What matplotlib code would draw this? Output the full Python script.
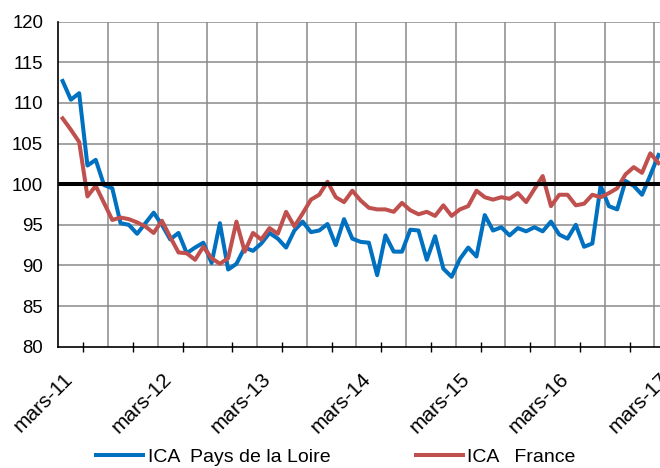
import matplotlib.pyplot as plt
import numpy as np

plt.rcParams['font.family'] = ['Liberation Sans', 'DejaVu Sans']

# monthly index, mars-11 .. mars-17
labels = ['mars-11', 'mars-12', 'mars-13', 'mars-14', 'mars-15', 'mars-16', 'mars-17']

pdl = [112.7, 110.4, 111.2, 102.3, 103.0, 99.9, 99.5, 95.2, 95.0, 93.9,
       95.2, 96.5, 95.0, 93.2, 94.0, 91.5, 92.2, 92.8, 90.3, 95.2,
       89.5, 90.2, 92.2, 91.8, 92.7, 94.0, 93.3, 92.2, 94.3, 95.4,
       94.1, 94.3, 95.1, 92.5, 95.7, 93.3, 92.9, 92.8, 88.8, 93.7,
       91.7, 91.7, 94.4, 94.3, 90.7, 93.6, 89.6, 88.6, 90.8, 92.2,
       91.1, 96.2, 94.3, 94.7, 93.7, 94.6, 94.2, 94.7, 94.2, 95.4,
       93.8, 93.3, 95.0, 92.3, 92.7, 99.8, 97.3, 96.9, 100.4, 99.8,
       98.7, 101.1, 103.6]

france = [108.1, 106.7, 105.2, 98.5, 99.8, 97.7, 95.6, 95.9, 95.7, 95.3,
          94.8, 94.0, 95.5, 93.5, 91.6, 91.5, 90.7, 92.3, 90.9, 90.2,
          90.9, 95.4, 91.7, 94.0, 93.2, 94.6, 93.9, 96.6, 94.8, 96.4,
          98.1, 98.7, 100.3, 98.4, 97.8, 99.2, 98.0, 97.1, 96.9, 96.9,
          96.6, 97.7, 96.8, 96.3, 96.6, 96.1, 97.4, 96.1, 96.9, 97.3,
          99.2, 98.4, 98.1, 98.4, 98.2, 98.9, 97.8, 99.4, 101.0, 97.3,
          98.7, 98.7, 97.4, 97.6, 98.7, 98.4, 98.9, 99.5, 101.2, 102.1,
          101.4, 103.8, 102.6]

ref = 100

x = np.arange(len(pdl))

fig = plt.figure(figsize=(6.6, 4.68), dpi=100)
ax = fig.add_axes([0.0886, 0.2592, 0.9155, 0.6944])

ax.plot(x, pdl, color='#0070C0', lw=2.9, zorder=3, label='ICA  Pays de la Loire')
ax.plot(x, france, color='#C0504D', lw=2.9, zorder=4, label='ICA   France')
ax.axhline(ref, color='black', lw=2.9, zorder=5)

ax.set_xlim(-0.5, len(x) - 0.5)
ax.set_ylim(80, 120)
ax.set_yticks(range(80, 121, 5))

# grid every 6 months, labels every year, small ticks in between
for g in np.arange(5.5, len(x), 6):
    ax.axvline(g, color='#8a8a8a', lw=1.1, zorder=1)
for g in range(85, 121, 5):
    ax.axhline(g, color='#8a8a8a', lw=1.1, zorder=1)

ax.set_xticks(np.arange(0, len(x), 12))
ax.set_xticklabels(labels, rotation=45, ha='right', va='top', rotation_mode='anchor')
ax.set_xticks(np.arange(2.5, len(x), 6), minor=True)
ax.tick_params(axis='x', which='major', length=0, pad=16, labelsize=15)
ax.tick_params(axis='x', which='minor', direction='inout', length=7, width=1)
ax.tick_params(axis='y', length=0, pad=11, labelsize=13.4)

for s in ['top', 'right']:
    ax.spines[s].set_visible(False)
ax.spines['left'].set_linewidth(1.2)
ax.spines['bottom'].set_linewidth(1.2)

fig.legend(loc='center', bbox_to_anchor=(0.509, 0.024), ncol=2, frameon=False,
           fontsize=14, handlelength=2.4, handletextpad=0.25, columnspacing=4.4,
           borderpad=0.2)

fig.savefig('out.png', dpi=100)
